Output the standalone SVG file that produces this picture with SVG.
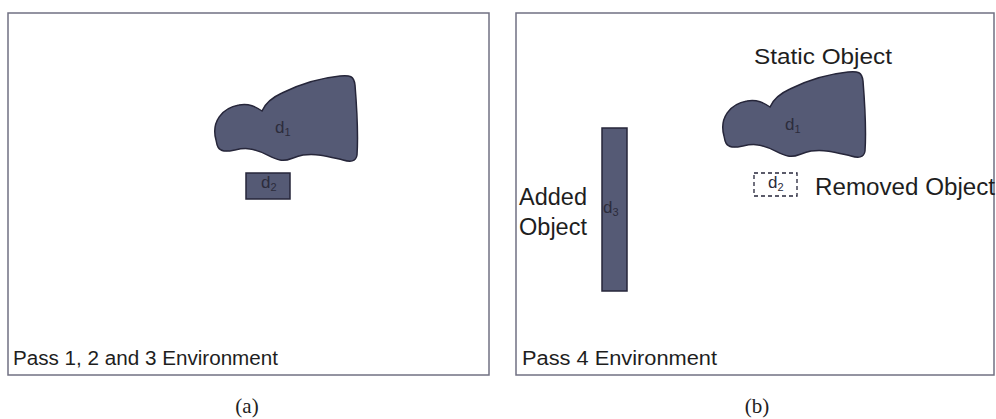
<svg xmlns="http://www.w3.org/2000/svg" width="996" height="419" viewBox="0 0 996 419">
<defs>
<style>
.panel{fill:#ffffff;stroke:#707082;stroke-width:1.5}
.obj{fill:#555a75;stroke:#26263a;stroke-width:1.5}
.removed{fill:none;stroke:#26263a;stroke-width:1.3;stroke-dasharray:4 3}
.lbl{font-family:"Liberation Sans",Arial,sans-serif;fill:#1e1e1e}
.dl{font-family:"Liberation Sans",Arial,sans-serif;fill:#2c2c3c;font-size:17px}
.sub{font-size:11px}
.cap{font-family:"Liberation Serif","Times New Roman",serif;fill:#222;font-size:21px}
</style>
<path id="blob" d="M216,140 C211,122 222,108 239,105 C249,103 256,107 262,111 C265,104 271,98 282,93 C300,84 320,78 340,76 C350,75 354,76 355,85 C357,110 358,140 357,155 C356,162 350,162 343,160 C330,157 318,153 303,155 C292,157 288,162 280,160 C270,158 264,151 250,149 C240,147 232,152 224,151 C218,150 217,146 216,140 Z"/>
</defs>
<rect width="996" height="419" fill="#ffffff"/>

<g id="panel-a">
<rect class="panel" x="8" y="13" width="481" height="362"/>
<text class="lbl" x="13" y="365" font-size="20" textLength="265" lengthAdjust="spacingAndGlyphs">Pass 1, 2 and 3 Environment</text>
</g>

<g id="a-d1">
<use href="#blob" class="obj"/>
<text class="dl" x="275" y="133">d<tspan class="sub" dy="3">1</tspan></text>
</g>

<g id="a-d2">
<rect class="obj" x="246" y="173" width="44" height="26"/>
<text class="dl" x="261" y="188">d<tspan class="sub" dy="3">2</tspan></text>
</g>

<g id="panel-b">
<rect class="panel" x="516" y="13" width="478" height="362"/>
<text class="lbl" x="522" y="365" font-size="20" textLength="195" lengthAdjust="spacingAndGlyphs">Pass 4 Environment</text>
</g>

<g id="b-d1">
<use href="#blob" class="obj" transform="translate(508,-4)"/>
<text class="dl" x="785" y="130">d<tspan class="sub" dy="3">1</tspan></text>
<text class="lbl" x="754" y="64" font-size="22" textLength="138" lengthAdjust="spacingAndGlyphs">Static Object</text>
</g>

<g id="b-d2">
<rect class="removed" x="754" y="173" width="43" height="23"/>
<text class="dl" x="768" y="188">d<tspan class="sub" dy="3">2</tspan></text>
<text class="lbl" x="815" y="195" font-size="23" textLength="180" lengthAdjust="spacingAndGlyphs">Removed Object</text>
</g>

<g id="b-d3">
<rect class="obj" x="602" y="128" width="25" height="163"/>
<text class="dl" x="603" y="213">d<tspan class="sub" dy="3">3</tspan></text>
<text class="lbl" x="519" y="205" font-size="23" textLength="68" lengthAdjust="spacingAndGlyphs">Added</text>
<text class="lbl" x="519" y="235" font-size="23" textLength="68" lengthAdjust="spacingAndGlyphs">Object</text>
</g>

<g id="connectors"></g>

<text class="cap" x="247" y="413" text-anchor="middle">(a)</text>
<text class="cap" x="757" y="413" text-anchor="middle">(b)</text>
</svg>
